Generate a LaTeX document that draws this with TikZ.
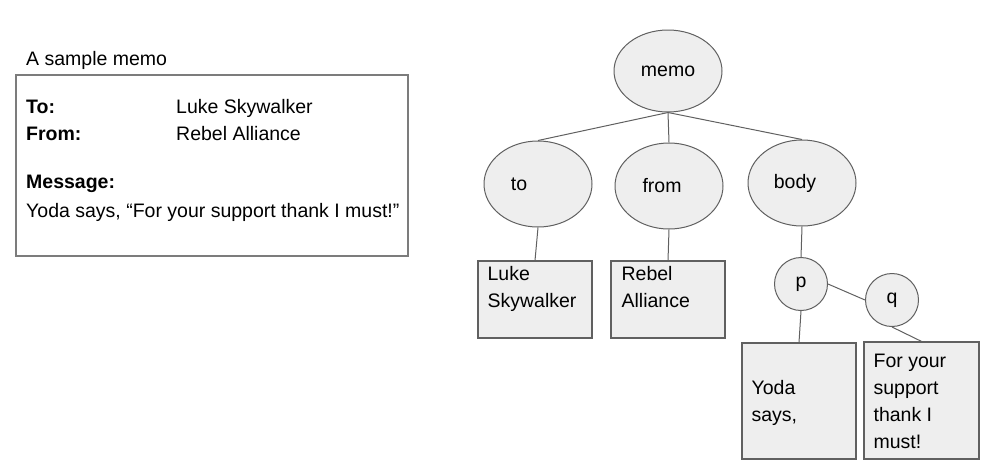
\documentclass[tikz,border=0pt]{standalone}
\usepackage{fontspec}
\setmainfont{Liberation Sans}
\usepackage{tikz}
\usetikzlibrary{shapes.geometric,positioning}

\definecolor{nodefill}{HTML}{EEEEEE}
\definecolor{nodeline}{HTML}{606060}
\definecolor{frameline}{HTML}{7C7C7C}

\begin{document}
\begin{tikzpicture}[x=1pt,y=-1pt,
  font=\fontsize{19.5}{27}\selectfont,
  memotext/.style={anchor=base west,inner sep=0pt},
  memoframe/.style={rectangle,draw=frameline,line width=1.2pt,minimum width=392pt,minimum height=181pt,inner sep=0pt},
  treeoval/.style={ellipse,draw=nodeline,fill=nodefill,line width=1pt,minimum width=108pt,minimum height=86pt,inner sep=0pt},
  treedot/.style={circle,draw=nodeline,fill=nodefill,line width=1pt,minimum size=53pt,inner sep=0pt},
  leafbox/.style={rectangle,draw=nodeline,fill=nodefill,line width=1.2pt,minimum width=114pt,inner sep=0pt},
  leaftext/.style={anchor=north west,inner sep=0pt,align=left},
  treeline/.style={draw=nodeline,line width=1pt}]

  \useasboundingbox (0,0) rectangle (984,464);

  % Left = the memo as it is printed
  \node[memotext] (title) at (26,65) {A sample memo};
  \node[memoframe] (memobox) at (212,165.5) {};
  \node[memotext] (tohead) at (26,113) {\textbf{To:}};
  \node[memotext] (toname) at (176,113) {Luke Skywalker};
  \node[memotext] (fromhead) at (26,140) {\textbf{From:}};
  \node[memotext] (fromname) at (176,140) {Rebel Alliance};
  \node[memotext] (msghead) at (26,188) {\textbf{Message:}};
  \node[memotext] (msgline) at (26,217) {Yoda says, “For your support thank I must!”};

  % Ovals = element nodes
  \node[treeoval,minimum height=82pt] (memo) at (668,71) {memo};
  \node[treeoval] (to) at (538,184) {\hspace*{-38pt}to};
  \node[treeoval] (from) at (669,186) {\hspace*{-14pt}from};
  \node[treeoval] (body) at (802,183) {\hspace*{-14pt}body};

  % Circles = paragraph / quote
  \node[treedot] (p) at (801,284) {p};
  \node[treedot] (q) at (892,300) {q};

  % Boxes = text content
  \node[leafbox,minimum height=77pt,
    label={[leaftext,xshift=10pt,yshift=-6pt]north west:Luke\\Skywalker}] (lukebox) at (535,299.5) {};
  \node[leafbox,minimum height=77pt,
    label={[leaftext,xshift=11pt,yshift=-6pt]north west:Rebel\\Alliance}] (rebelbox) at (668,299.5) {};
  \node[leafbox,minimum height=116pt,
    label={[leaftext,xshift=10pt,yshift=-38pt]north west:Yoda\\says,}] (yodabox) at (799,401) {};
  \node[leafbox,minimum width=115pt,minimum height=117pt,
    label={[leaftext,xshift=10pt,yshift=-12pt]north west:For your\\support\\thank I\\must!}] (forbox) at (921.5,400.5) {};

  % Lines = parent to child
  \draw[treeline] (memo.south) -- (to.north);
  \draw[treeline] (memo.south) -- (from.north);
  \draw[treeline] (memo.south) -- (body.north);
  \draw[treeline] (to.south) -- (lukebox.north);
  \draw[treeline] (from.south) -- (rebelbox.north);
  \draw[treeline] (body.south) -- (p.north);
  \draw[treeline] (p.east) -- (q.west);
  \draw[treeline] (p.south) -- (yodabox.north);
  \draw[treeline] (q.south) -- (forbox.north);

\end{tikzpicture}
\end{document}
